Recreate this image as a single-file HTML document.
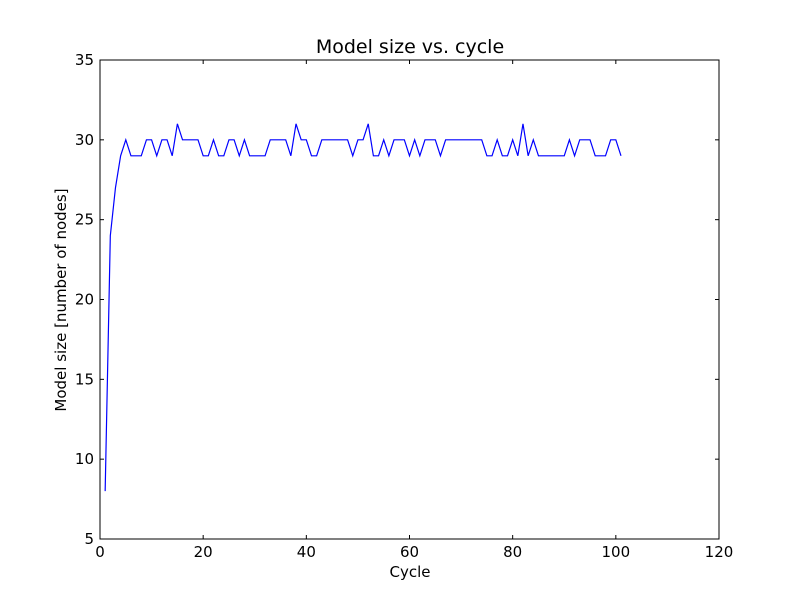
<!DOCTYPE html>
<html><head><meta charset="utf-8"><style>
body{margin:0;background:#fff;}
svg{display:block;font-family:"DejaVu Sans","Liberation Sans",sans-serif;}
</style></head><body>
<svg width="800" height="600">
<rect x="0" y="0" width="800" height="600" fill="#fff"/>
<rect x="100" y="60" width="619" height="479" fill="#fff"/>
<g id="ticks"></g>
<path id="line" fill="none" stroke="#0000ff" stroke-width="1.2"/>
<rect x="100" y="60" width="619" height="479" fill="none" stroke="#000" stroke-width="1"/>
<text x="410" y="53" text-anchor="middle" font-size="19">Model size vs. cycle</text>
<text x="410" y="577" text-anchor="middle" font-size="15">Cycle</text>
<text transform="translate(66,300) rotate(-90)" text-anchor="middle" font-size="15">Model size [number of nodes]</text>
</svg>
<script>
const xTicks=[0,20,40,60,80,100,120];
const yTicks=[5,10,15,20,25,30,35];
const cycles=[];for(let i=1;i<=101;i++)cycles.push(i);
const sizes=[8,24,27,29,30,29,29,29,30,30,29,30,30,29,31,30,30,30,30,29,29,30,29,29,30,30,29,30,29,29,29,29,30,30,30,30,29,31,30,30,29,29,30,30,30,30,30,30,29,30,30,31,29,29,30,29,30,30,30,29,30,29,30,30,30,29,30,30,30,30,30,30,30,30,29,29,30,29,29,30,29,31,29,30,29,29,29,29,29,29,30,29,30,30,30,29,29,29,30,30,29];
const X=v=>100+(v-0)/120*619;
const Y=v=>539-(v-5)/30*479;
const NS='http://www.w3.org/2000/svg';
const g=document.getElementById('ticks');
function mk(t,a){const e=document.createElementNS(NS,t);for(const k in a)e.setAttribute(k,a[k]);g.appendChild(e);return e;}
xTicks.forEach(v=>{const x=X(v);
mk('line',{x1:x,x2:x,y1:539,y2:535,stroke:'#000'});
mk('line',{x1:x,x2:x,y1:60,y2:64,stroke:'#000'});
const t=mk('text',{x:x,y:557,'text-anchor':'middle','font-size':15});t.textContent=v;

});
yTicks.forEach(v=>{const y=Y(v);
mk('line',{x1:100,x2:104,y1:y,y2:y,stroke:'#000'});
mk('line',{x1:719,x2:715,y1:y,y2:y,stroke:'#000'});
const t=mk('text',{x:94,y:y+5,'text-anchor':'end','font-size':15});t.textContent=v;

});
document.getElementById('line').setAttribute('d',cycles.map((c,i)=>(i?'L':'M')+X(c).toFixed(2)+','+Y(sizes[i]).toFixed(2)).join(''));
</script>
</body></html>
